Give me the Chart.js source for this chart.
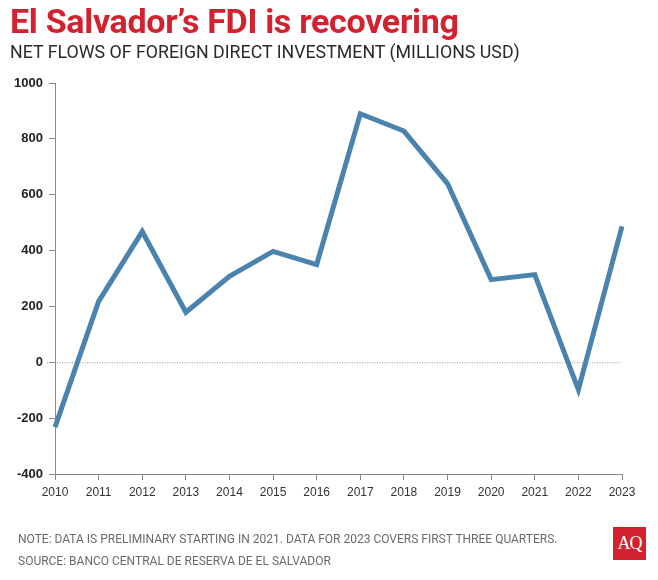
<!DOCTYPE html>
<html>
<head>
<meta charset="utf-8">
<script src="https://cdn.jsdelivr.net/npm/chart.js@4.4.0/dist/chart.umd.min.js"></script>
<style>
  html, body { margin: 0; padding: 0; background: #fff; }
  #wrap { position: relative; width: 658px; height: 580px; overflow: hidden; }
  #c { position: absolute; left: 0; top: 0; }
  .title { position: absolute; left: 10px; top: 1px; font-family: Roboto, "Liberation Sans", sans-serif; font-weight: 700; font-size: 34px; color: #d3222f; letter-spacing: -0.3px; white-space: nowrap; }
  .sub { position: absolute; left: 10px; top: 41px; font-family: Roboto, "Liberation Sans", sans-serif; font-size: 17.8px; color: #2a2a2a; white-space: nowrap; }
  .note { position: absolute; left: 18px; font-family: Roboto, "Liberation Sans", sans-serif; font-size: 12px; color: #6a6a6a; white-space: nowrap; }
  .logo { position: absolute; left: 613px; top: 527px; width: 33px; height: 33px; background: #d3222f; color: #fff; font-family: "Liberation Serif", "DejaVu Serif", serif; font-size: 18px; line-height: 33px; text-align: center; letter-spacing: -1px; }
</style>
</head>
<body>
<div id="wrap">
  <canvas id="c" width="658" height="580"></canvas>
  <div class="title">El Salvador’s FDI is recovering</div>
  <div class="sub">NET FLOWS OF FOREIGN DIRECT INVESTMENT (MILLIONS USD)</div>
  <div class="note" style="top:532px">NOTE: DATA IS PRELIMINARY STARTING IN 2021. DATA FOR 2023 COVERS FIRST THREE QUARTERS.</div>
  <div class="note" style="top:554px">SOURCE: BANCO CENTRAL DE RESERVA DE EL SALVADOR</div>
  <div class="logo">AQ</div>
</div>
<script>
const years = ["2010","2011","2012","2013","2014","2015","2016","2017","2018","2019","2020","2021","2022","2023"];
const fdiNetFlows = [-232, 218, 468, 179, 308, 397, 350, 890, 828, 640, 296, 314, -98, 487];
const yTicks = [-400, -200, 0, 200, 400, 600, 800, 1000];

const zeroLine = {
  id: 'zeroLine',
  beforeDatasetsDraw(chart) {
    const y = chart.scales.y.getPixelForValue(0);
    const ctx = chart.ctx;
    ctx.save();
    ctx.strokeStyle = '#9a9a9a';
    ctx.lineWidth = 1;
    ctx.setLineDash([1, 1.5]);
    ctx.beginPath();
    ctx.moveTo(chart.chartArea.left - 8, y + 0.5);
    ctx.lineTo(chart.chartArea.right, y + 0.5);
    ctx.stroke();
    ctx.restore();
  }
};

new Chart(document.getElementById('c'), {
  type: 'line',
  data: {
    labels: years,
    datasets: [{
      data: fdiNetFlows,
      borderColor: '#4a84ae',
      borderWidth: 5,
      pointRadius: 0,
      tension: 0,
      fill: false,
      borderJoinStyle: 'miter',
      borderCapStyle: 'butt'
    }]
  },
  options: {
    responsive: false,
    animation: false,
    layout: { padding: { left: 0, right: 36, top: 83, bottom: 0 } },
    plugins: { legend: { display: false }, tooltip: { enabled: false } },
    scales: {
      x: {
        offset: false,
        afterFit(s) { s.height = 106; },
        grid: { drawOnChartArea: false, drawTicks: true, tickLength: 6, tickColor: '#8a8a8a', tickWidth: 1 },
        border: { display: true, color: '#8a8a8a', width: 1 },
        ticks: { color: '#333', font: { family: 'Liberation Sans', size: 12 }, padding: 5, maxRotation: 0, autoSkip: false }
      },
      y: {
        min: -400,
        max: 1000,
        afterFit(s) { s.width = 55; },
        afterBuildTicks(s) { s.ticks = yTicks.map(v => ({ value: v })); },
        grid: { drawOnChartArea: false, drawTicks: true, tickLength: 6, tickColor: '#8a8a8a', tickWidth: 1 },
        border: { display: true, color: '#8a8a8a', width: 1 },
        ticks: { color: '#222', font: { family: 'Liberation Sans', size: 13, weight: 'bold' }, padding: 6,
                 callback: (v) => String(v) }
      }
    }
  },
  plugins: [zeroLine]
});
</script>
</body>
</html>
